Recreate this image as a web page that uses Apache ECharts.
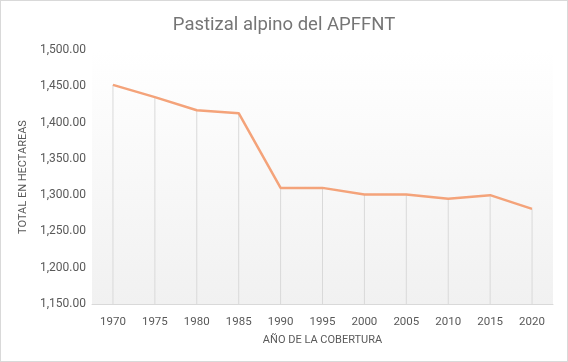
<!DOCTYPE html>
<html>
<head>
<meta charset="utf-8">
<script src="https://cdn.jsdelivr.net/npm/echarts@6/dist/echarts.min.js"></script>
<style>
  html, body { margin: 0; padding: 0; background: #fff; }
  #chart { width: 566px; height: 360px; border: 1px solid #d9d9d9; }
</style>
</head>
<body>
<div id="chart"></div>
<script>
var years = ['1970', '1975', '1980', '1985', '1990', '1995', '2000', '2005', '2010', '2015', '2020'];
var hectareas = [1452, 1435, 1417, 1413, 1310, 1310, 1301, 1301, 1295, 1300, 1281];

function fmt(v) {
    var s = v.toFixed(2).split('.');
    return s[0].replace(/\B(?=(\d{3})+(?!\d))/g, ',') + '.' + s[1];
}

var myChart = echarts.init(document.getElementById('chart'));
var option = {
    textStyle: { fontFamily: 'Roboto' },
    title: {
        text: 'Pastizal alpino del APFFNT',
        left: 'center',
        top: 10,
        textStyle: { color: '#757575', fontSize: 18.5, fontWeight: 'normal' }
    },
    grid: {
        left: 91, right: 14, top: 49, bottom: 57,
        show: true,
        borderWidth: 0,
        backgroundColor: new echarts.graphic.LinearGradient(0, 0, 0, 1, [
            { offset: 0, color: '#ffffff' },
            { offset: 1, color: '#f1f1f1' }
        ])
    },
    xAxis: {
        type: 'category',
        data: years,
        boundaryGap: true,
        name: 'AÑO DE LA COBERTURA',
        nameLocation: 'middle',
        nameGap: 31,
        nameTextStyle: { color: '#595959', fontSize: 11 },
        axisLine: { lineStyle: { color: '#d9d9d9' } },
        axisTick: { show: false },
        axisLabel: { color: '#595959', fontSize: 11.5, margin: 12 }
    },
    yAxis: {
        type: 'value',
        min: 1150,
        max: 1500,
        interval: 50,
        name: 'TOTAL EN HECTAREAS',
        nameLocation: 'middle',
        nameGap: 58,
        nameTextStyle: { color: '#595959', fontSize: 11 },
        axisLine: { show: false },
        axisTick: { show: false },
        splitLine: { show: false },
        axisLabel: { color: '#595959', fontSize: 12, margin: 6, formatter: fmt }
    },
    series: [
        {
            // líneas de caída hasta el eje
            type: 'bar',
            data: hectareas,
            barWidth: 1,
            itemStyle: { color: '#d9d9d9' },
            silent: true
        },
        {
            type: 'line',
            data: hectareas,
            symbol: 'none',
            lineStyle: { color: '#f4a37a', width: 2.5 },
            z: 3
        }
    ]
};
myChart.setOption(option);
window.onresize = myChart.resize;
</script>
</body>
</html>
